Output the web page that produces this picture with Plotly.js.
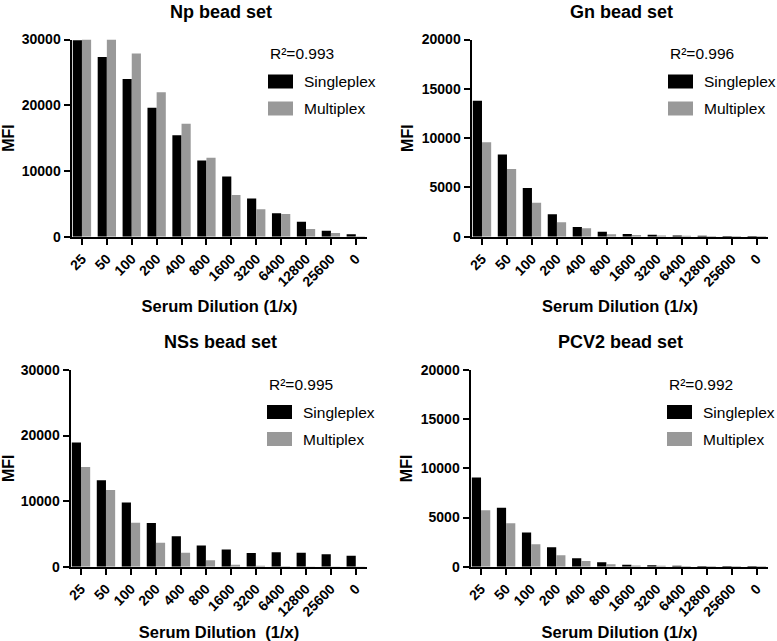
<!DOCTYPE html>
<html>
<head>
<meta charset="utf-8">
<script src="https://cdn.plot.ly/plotly-3.0.1.min.js"></script>
<style>html,body{margin:0;padding:0;background:#fff;}#chart{width:777px;height:641px;}</style>
</head>
<body>
<div id="chart"></div>
<script>
// ---- data ----
const dilutions = ["25","50","100","200","400","800","1600","3200","6400","12800","25600","0"];
const panelTitles = ["Np bead set","Gn bead set","NSs bead set","PCV2 bead set"];
const rSquared = ["0.993","0.996","0.995","0.992"];
const seriesNames = ["Singleplex","Multiplex"];
const npSingle  = [29900, 27350, 24000, 19620, 15450, 11590, 9150, 5800, 3560, 2290, 920, 360];
const npMulti   = [30000, 30000, 27860, 21960, 17180, 12000, 6350, 4170, 3460, 1170, 560, 60];
const gnSingle  = [13780, 8330, 4930, 2280, 990, 500, 270, 200, 130, 90, 80, 80];
const gnMulti   = [9590, 6870, 3440, 1460, 850, 240, 170, 130, 100, 80, 70, 70];
const nssSingle = [18960, 13200, 9810, 6660, 4630, 3250, 2640, 2080, 2190, 2140, 1880, 1680];
const nssMulti  = [15200, 11700, 6710, 3660, 2140, 970, 300, 150, 50, 40, 40, 40];
const pcvSingle = [9080, 5990, 3470, 1970, 850, 440, 200, 150, 100, 80, 80, 70];
const pcvMulti  = [5750, 4420, 2280, 1160, 580, 240, 120, 100, 80, 70, 60, 60];
const yMax = [30000, 20000, 30000, 20000];
const yTickStep = [10000, 5000, 10000, 5000];
const xTitles = ["Serum Dilution (1/x)","Serum Dilution (1/x)","Serum Dilution\u00A0 (1/x)","Serum Dilution (1/x)"];
const yTitle = "MFI";

// ---- layout geometry (pixels) ----
const W = 777, H = 641;
const FONT = "'Liberation Sans', Arial, Helvetica, sans-serif";
const colors = ["#000000", "#999999"];
const panels = [
  {x0: 72,  x1: 367, y0: 39.5,  y1: 236.7},
  {x0: 472, x1: 768, y0: 39.5,  y1: 236.7},
  {x0: 71,  x1: 367, y0: 370,   y1: 566.7},
  {x0: 471, x1: 768, y0: 370,   y1: 566.7}
];
const px = v => v / W;
const py = v => 1 - v / H;

const seriesData = [[npSingle, npMulti],[gnSingle, gnMulti],[nssSingle, nssMulti],[pcvSingle, pcvMulti]];

const traces = [];
const layout = {
  width: W, height: H,
  margin: {l:0, r:0, t:0, b:0},
  paper_bgcolor: "#fff", plot_bgcolor: "#fff",
  barmode: "group", bargap: 0.264, bargroupgap: 0,
  showlegend: false,
  font: {family: FONT, color: "#000"},
  annotations: [], shapes: []
};

panels.forEach((p, i) => {
  const k = i === 0 ? "" : String(i + 1);
  seriesData[i].forEach((vals, s) => {
    traces.push({
      type: "bar", x: dilutions, y: vals, name: seriesNames[s],
      xaxis: "x" + k, yaxis: "y" + k,
      marker: {color: colors[s], line: {width: 0}},
      hoverinfo: "x+y+name"
    });
  });
  layout["xaxis" + k] = {
    domain: [px(p.x0), px(p.x1)], anchor: "y" + k, type: "category",
    range: [-0.4, 11.45], showgrid: false, zeroline: false,
    showline: true, linecolor: "#000", linewidth: 2.5,
    ticks: "outside", ticklen: 6, tickwidth: 2, tickcolor: "#000",
    tickangle: -45, tickfont: {family: FONT, size: 14, color: "#000", weight: "bold"},
    title: {text: xTitles[i], standoff: 12, font: {family: FONT, size: 16.5, color: "#000", weight: "bold"}},
    fixedrange: true
  };
  layout["yaxis" + k] = {
    domain: [py(p.y1), py(p.y0)], anchor: "x" + k,
    range: [0, yMax[i]], tickmode: "linear", tick0: 0, dtick: yTickStep[i],
    showgrid: false, zeroline: false,
    showline: true, linecolor: "#000", linewidth: 2.5,
    ticks: "outside", ticklen: 6, tickwidth: 2, tickcolor: "#000",
    tickfont: {family: FONT, size: 14, color: "#000", weight: "bold"},
    title: {text: yTitle, standoff: 4, font: {family: FONT, size: 16, color: "#000", weight: "bold"}},
    tickformat: "d", fixedrange: true
  };
  const cx = (p.x0 + p.x1) / 2;
  // panel title
  layout.annotations.push({
    xref: "paper", yref: "paper", x: px(cx + 1), y: py(p.y0 - 28), xanchor: "center", yanchor: "middle",
    text: "<b>" + panelTitles[i] + "</b>", showarrow: false,
    font: {family: FONT, size: 18, color: "#000"}
  });
  // R^2 and legend
  const lx = p.x0 + 196;
  const ly = p.y0 + 14;
  layout.annotations.push({
    xref: "paper", yref: "paper", x: px(lx), y: py(ly), xanchor: "left", yanchor: "middle",
    text: "R\u00B2=" + rSquared[i], showarrow: false,
    font: {family: FONT, size: 15.5, color: "#000"}
  });
  seriesNames.forEach((nm, s) => {
    const top = ly + 21 + s * 27;
    layout.shapes.push({
      type: "rect", xref: "paper", yref: "paper",
      x0: px(lx), x1: px(lx + 25), y0: py(top), y1: py(top + 14),
      fillcolor: colors[s], line: {width: 0}
    });
    layout.annotations.push({
      xref: "paper", yref: "paper", x: px(lx + 34), y: py(top + 7), xanchor: "left", yanchor: "middle",
      text: nm, showarrow: false,
      font: {family: FONT, size: 15.5, color: "#000"}
    });
  });
});

Plotly.newPlot("chart", traces, layout, {displayModeBar: false, staticPlot: true});
</script>
</body>
</html>
